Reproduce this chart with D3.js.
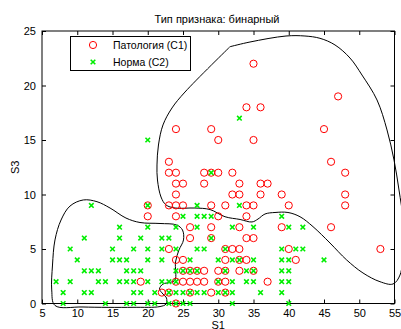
<!DOCTYPE html>
<html>
    <head>
        <meta charset="utf-8">
        <script type="text/javascript" src="https://cdn.jsdelivr.net/npm/d3@7/dist/d3.min.js"></script>
        <style type="text/css">
            body {
                margin: 0;
                background: #fff;
            }
            svg text {
                font-family: "Liberation Sans", Arial, sans-serif;
            }
        </style>
    </head>
    <body>
        <div id="chart"></div>

        <script>
        var width = 401;
        var height = 329;

        // ========== данные ==========
        var xTicks = [5, 10, 15, 20, 25, 30, 35, 40, 45, 50, 55];
        var yTicks = [0, 5, 10, 15, 20, 25];

        // Патология (C1): [S1, S3]
        var c1Points = [
            [35, 22], [47, 19], [34, 18], [36, 18],
            [24, 16], [29, 16], [45, 16], [30, 15], [35, 15], [23, 13], [46, 13],
            [23, 12], [24, 12], [28, 12], [29, 12], [30, 12], [32, 12], [48, 12],
            [24, 11], [25, 11], [28, 11], [33, 11], [36, 11], [37, 11],
            [24, 10], [32, 10], [33, 10], [36, 10], [39, 10], [48, 10],
            [20, 9], [23, 9], [24, 9], [25, 9], [29, 9], [31, 9], [34, 9], [35, 9], [40, 9], [48, 9],
            [20, 8], [24, 8], [30, 8], [34, 8],
            [26, 7], [29, 7], [33, 7], [39, 7], [46, 7],
            [26, 6], [29, 6], [34, 6], [35, 6],
            [23, 5], [31, 5], [32, 5], [33, 5], [40, 5], [53, 5],
            [24, 4], [25, 4], [31, 4], [33, 4], [34, 4], [41, 4],
            [25, 3], [26, 3], [27, 3], [28, 3], [30, 3], [31, 3], [33, 3], [35, 3],
            [19, 2], [24, 2], [25, 2], [26, 2], [27, 2], [28, 2], [30, 2], [31, 2], [37, 2],
            [22, 1], [23, 1], [26, 1], [29, 1], [31, 1],
            [24, 0]
        ];

        // Норма (C2): [S1, S3]
        var c2Points = [
            [33, 17], [20, 15], [29, 12],
            [12, 9], [20, 9], [27, 9], [33, 9],
            [25, 8], [27, 8], [28, 8], [29, 8], [39, 8],
            [16, 7], [20, 7], [24, 7], [27, 7], [32, 7], [35, 7], [40, 7], [42, 7],
            [11, 6], [16, 6], [19, 6], [22, 6], [23, 6], [29, 6],
            [9, 5], [15, 5], [18, 5], [20, 5], [22, 5], [24, 5], [27, 5], [28, 5], [31, 5], [39, 5], [41, 5], [42, 5],
            [10, 4], [15, 4], [16, 4], [17, 4], [20, 4], [22, 4], [26, 4], [30, 4], [32, 4], [33, 4], [35, 4], [39, 4], [40, 4], [45, 4],
            [11, 3], [12, 3], [13, 3], [17, 3], [18, 3], [19, 3], [24, 3], [25, 3], [26, 3], [27, 3], [31, 3], [34, 3], [35, 3], [39, 3], [40, 3],
            [7, 2], [9, 2], [13, 2], [14, 2], [16, 2], [17, 2], [18, 2], [20, 2], [22, 2], [23, 2], [24, 2], [30, 2], [32, 2], [34, 2], [35, 2], [39, 2], [40, 2],
            [8, 1], [11, 1], [12, 1], [18, 1], [19, 1], [21, 1], [23, 1], [24, 1], [25, 1], [26, 1], [27, 1], [28, 1], [30, 1], [31, 1], [32, 1], [36, 1], [39, 1],
            [8, 0], [14, 0], [17, 0], [18, 0], [20, 0], [21, 0], [23, 0], [24, 0], [25, 0], [26, 0], [32, 0], [40, 0]
        ];

        // граница области C1 (в координатах S1, S3)
        var boundary1 = [
            [31.67, 23.56], [34.5, 23.99], [39.61, 24.54], [42.3, 24.54], [44.43, 24.33],
            [46.56, 23.72], [48.69, 22.52], [50.39, 20.96], [52.52, 18.67], [53.94, 15.92],
            [54.93, 13.17], [55.64, 10.41], [56.21, 7.66], [56.21, 4.91], [55.78, 2.61],
            [54.79, 1.79], [52.94, 2.0], [50.53, 2.8], [48.22, 3.99], [45.85, 5.55],
            [43.44, 7.05], [41.6, 7.96], [39.89, 8.35], [38.05, 8.35], [36.63, 8.21],
            [35.64, 7.75], [34.79, 7.48], [33.09, 7.71], [30.96, 7.96], [28.83, 8.62],
            [26.7, 8.76], [23.87, 8.76], [22.59, 9.04], [21.88, 9.77], [21.38, 11.33],
            [21.31, 12.71], [21.52, 14.54], [22.16, 16.38], [23.44, 17.94], [25.28, 19.4],
            [31.67, 23.56]
        ];

        // граница области C2
        var boundary2 = [
            [10.86, 9.5], [12.8, 9.34], [14.65, 8.76], [16.91, 7.84], [18.9, 7.43],
            [21.74, 7.34], [24.11, 7.2], [24.93, 6.74], [25.07, 5.83], [24.43, 4.91],
            [23.94, 3.81], [23.87, 2.16], [23.16, 1.93], [22.16, 1.79], [21.67, 1.33],
            [22.16, 0.87], [22.66, 0.5], [22.59, -0.05], [21.74, -0.28], [17.91, -0.35],
            [10.82, -0.32], [6.84, -0.18], [6.38, 1.24], [6.49, 3.53], [6.84, 5.83],
            [7.7, 7.66], [8.97, 8.94]
        ];

        var svg = d3.select("#chart").append("svg")
            .attr("width", width)
            .attr("height", height);

        // шкалы
        var x = d3.scaleLinear()
            .domain([5, 55])
            .range([42, 394.5]);

        var y = d3.scaleLinear()
            .domain([0, 25])
            .range([303.5, 31]);

        // рамка
        svg.append("rect")
            .attr("x", x(5))
            .attr("y", y(25))
            .attr("width", x(55) - x(5))
            .attr("height", y(0) - y(25))
            .attr("fill", "none")
            .attr("stroke", "#000")
            .attr("stroke-width", 1);

        // оси: метки внутрь, как в MATLAB
        var axisStyle = function(g) {
            g.select(".domain").remove();
            g.selectAll(".tick line").attr("stroke", "#000");
            g.selectAll(".tick text")
                .attr("font-size", "11px")
                .attr("fill", "#000");
        };

        svg.append("g")
            .attr("transform", "translate(0," + y(0) + ")")
            .call(d3.axisBottom(x).tickValues(xTicks).tickSize(-4).tickPadding(6))
            .call(axisStyle);

        svg.append("g")
            .attr("transform", "translate(0," + y(25) + ")")
            .call(d3.axisTop(x).tickValues(xTicks).tickSize(-4).tickFormat(""))
            .call(axisStyle);

        svg.append("g")
            .attr("transform", "translate(" + x(5) + ",0)")
            .call(d3.axisLeft(y).tickValues(yTicks).tickSize(-4).tickPadding(6))
            .call(axisStyle);

        svg.append("g")
            .attr("transform", "translate(" + x(55) + ",0)")
            .call(d3.axisRight(y).tickValues(yTicks).tickSize(-4).tickFormat(""))
            .call(axisStyle);

        // границы классов
        var line = d3.line()
            .x(function(d) { return x(d[0]); })
            .y(function(d) { return y(d[1]); });

        svg.append("path")
            .datum(boundary1)
            .attr("d", line.curve(d3.curveCatmullRom.alpha(0.5)))
            .attr("fill", "none")
            .attr("stroke", "#000")
            .attr("stroke-width", 1);

        svg.append("path")
            .datum(boundary2)
            .attr("d", line.curve(d3.curveCatmullRomClosed.alpha(0.5)))
            .attr("fill", "none")
            .attr("stroke", "#000")
            .attr("stroke-width", 1);

        // C1 - красные кружки
        svg.append("g").selectAll("circle")
            .data(c1Points)
            .enter()
            .append("circle")
            .attr("cx", function(d) { return x(d[0]); })
            .attr("cy", function(d) { return y(d[1]); })
            .attr("r", 3.6)
            .attr("fill", "none")
            .attr("stroke", "#ff0000")
            .attr("stroke-width", 1);

        // C2 - зелёные крестики
        var cross = function(sel, s) {
            sel.append("path")
                .attr("d", "M" + (-s) + "," + (-s) + "L" + s + "," + s +
                           "M" + (-s) + "," + s + "L" + s + "," + (-s))
                .attr("stroke", "#00ee00")
                .attr("stroke-width", 1.6)
                .attr("fill", "none");
        };

        svg.append("g").selectAll("g")
            .data(c2Points)
            .enter()
            .append("g")
            .attr("transform", function(d) {
                return "translate(" + x(d[0]) + "," + y(d[1]) + ")";
            })
            .call(cross, 2.3);

        // заголовок и подписи осей
        svg.append("text")
            .attr("x", 217)
            .attr("y", 23)
            .attr("text-anchor", "middle")
            .attr("font-size", "11px")
            .text("Тип признака: бинарный");

        svg.append("text")
            .attr("x", x(30))
            .attr("y", 328.5)
            .attr("text-anchor", "middle")
            .attr("font-size", "11px")
            .text("S1");

        svg.append("text")
            .attr("transform", "translate(19," + y(12.5) + ") rotate(-90)")
            .attr("text-anchor", "middle")
            .attr("font-size", "11px")
            .text("S3");

        // легенда
        var legend = svg.append("g");

        legend.append("rect")
            .attr("x", 70.5)
            .attr("y", 36.5)
            .attr("width", 120)
            .attr("height", 34)
            .attr("fill", "#fff")
            .attr("stroke", "#000")
            .attr("stroke-width", 1);

        legend.append("circle")
            .attr("cx", 93)
            .attr("cy", 45)
            .attr("r", 3.6)
            .attr("fill", "none")
            .attr("stroke", "#ff0000")
            .attr("stroke-width", 1);

        legend.append("g")
            .attr("transform", "translate(93,62)")
            .call(cross, 2.3);

        legend.append("text")
            .attr("x", 113)
            .attr("y", 49)
            .attr("font-size", "10.5px")
            .text("Патология (C1)");

        legend.append("text")
            .attr("x", 113)
            .attr("y", 66)
            .attr("font-size", "10.5px")
            .text("Норма (C2)");
        </script>
    </body>
</html>
